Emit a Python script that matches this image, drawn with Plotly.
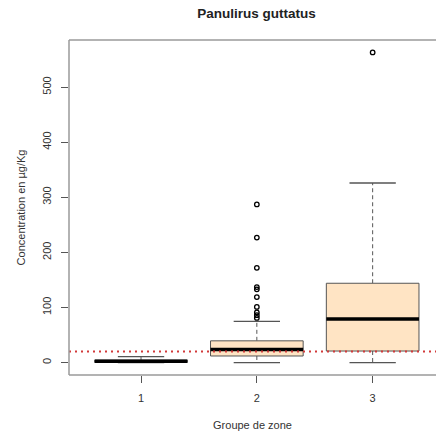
import plotly.graph_objects as go

# Summary statistics per zone group (µg/Kg)
groups = [1, 2, 3]
lower_whisker = [0, 0, 0]
q1 = [0.5, 12, 21]
median = [2.5, 24, 79]
q3 = [4.5, 39.5, 144]
upper_whisker = [11, 75, 326]

# Outlying observations
outliers_g2 = [287, 227, 172, 137, 133, 119, 101, 91, 86, 81]
outliers_g3 = [563]

threshold = 20

box_half = 0.4
cap_half = 0.2
fill = "#FFE4C4"
edge = "#555555"
font_family = "Liberation Sans, Arial, sans-serif"

fig = go.Figure()

for g, lo, a, m, b, hi in zip(groups, lower_whisker, q1, median, q3, upper_whisker):
    # whiskers (dashed)
    fig.add_trace(go.Scatter(x=[g, g, None, g, g], y=[b, hi, None, a, lo], mode="lines",
                             line=dict(color=edge, width=1, dash="4px,3px"),
                             hoverinfo="skip", showlegend=False))
    # whisker caps
    fig.add_trace(go.Scatter(x=[g - cap_half, g + cap_half, None, g - cap_half, g + cap_half],
                             y=[hi, hi, None, lo, lo], mode="lines",
                             line=dict(color=edge, width=1.3),
                             hoverinfo="skip", showlegend=False))
    # box
    fig.add_trace(go.Scatter(x=[g - box_half, g + box_half, g + box_half, g - box_half, g - box_half],
                             y=[a, a, b, b, a], mode="lines", fill="toself", fillcolor=fill,
                             line=dict(color=edge, width=1),
                             hoverinfo="skip", showlegend=False))
    # median
    fig.add_trace(go.Scatter(x=[g - box_half, g + box_half], y=[m, m], mode="lines",
                             line=dict(color="black", width=3.5),
                             hoverinfo="skip", showlegend=False))

for g, vals in [(2, outliers_g2), (3, outliers_g3)]:
    fig.add_trace(go.Scatter(x=[g] * len(vals), y=vals, mode="markers",
                             marker=dict(symbol="circle-open", size=4.5, color="black",
                                         line=dict(width=1.3, color="black")),
                             hoverinfo="y", showlegend=False))

# reference threshold
fig.add_trace(go.Scatter(x=[0.378, 3.547], y=[threshold, threshold], mode="lines",
                         line=dict(color="#d23a3a", width=2, dash="2px,4px"),
                         hoverinfo="skip", showlegend=False))

frame = dict(type="line", xref="paper", yref="paper", line=dict(color="#9a9a9a", width=1.5))

fig.update_layout(
    width=436, height=434,
    margin=dict(l=69, r=0, t=40, b=59),
    paper_bgcolor="white", plot_bgcolor="white",
    font=dict(family=font_family, color="#333333", size=11),
    title=dict(text="<b>Panulirus guttatus</b>", x=256.5 / 436, xanchor="center",
               y=1 - 13 / 434, yanchor="middle",
               font=dict(size=13.5, color="#222222", family=font_family)),
    xaxis=dict(range=[0.378, 3.547], tickvals=groups, ticktext=[str(g) for g in groups],
               showgrid=False, zeroline=False, showline=False,
               ticks="outside", ticklen=7, tickcolor="#555555", tickwidth=1.2,
               ticklabelstandoff=6,
               tickfont=dict(size=11, color="#333333"),
               title=dict(text="Groupe de zone", font=dict(size=11, color="#333333"), standoff=18)),
    yaxis=dict(range=[-22.5, 585.5], tickvals=[0, 100, 200, 300, 400, 500],
               showgrid=False, zeroline=False, showline=False,
               ticks="outside", ticklen=7, tickcolor="#555555", tickwidth=1.2,
               ticklabelstandoff=6,
               tickangle=-90, tickfont=dict(size=11, color="#333333"),
               title=dict(text="Concentration en µg/Kg", font=dict(size=11, color="#333333"), standoff=12)),
    shapes=[
        dict(frame, x0=0, x1=0, y0=0, y1=1),
        dict(frame, x0=0, x1=1, y0=1, y1=1),
        dict(frame, x0=0, x1=1, y0=0, y1=0),
    ],
)

fig.write_html("out.html")
